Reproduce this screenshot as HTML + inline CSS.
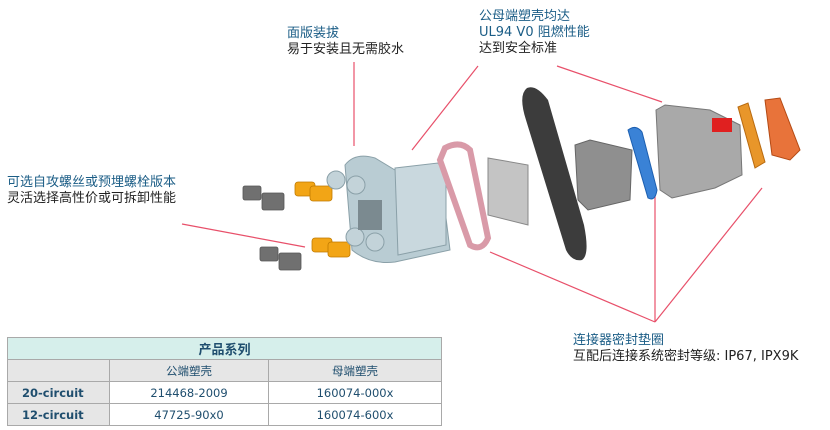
<!DOCTYPE html>
<html><head><meta charset="utf-8"><style>
body{margin:0;width:830px;height:430px;background:#fff;position:relative;overflow:hidden;font-family:"DejaVu Sans","Noto Sans CJK SC",sans-serif;}
.t{position:absolute;font-size:13px;line-height:16px;color:#222;white-space:nowrap}
.b{color:#1b5d86}
table{position:absolute;left:7px;top:337px;border-collapse:collapse;font-size:11.5px;color:#1f4e6e;font-family:"DejaVu Sans","Noto Sans CJK SC",sans-serif}
td{border:1.5px solid #a9a9a9;text-align:center;height:21px;padding:0}
</style></head><body>
<svg width="830" height="430" style="position:absolute;left:0;top:0">
<g stroke="#e8506a" stroke-width="1.2" fill="none">
<line x1="354" y1="62" x2="354" y2="146"/>
<line x1="478" y1="66" x2="412" y2="150"/>
<line x1="557" y1="66" x2="662" y2="102"/>
<line x1="182" y1="224" x2="305" y2="247"/>
<line x1="490" y1="252" x2="655" y2="322"/>
<line x1="655" y1="190" x2="655" y2="322"/>
<line x1="762" y1="188" x2="655" y2="322"/>
</g>
<g fill="#707070" stroke="#555" stroke-width="0.8">
<rect x="243" y="186" width="18" height="14" rx="2"/><rect x="262" y="193" width="22" height="17" rx="2"/>
<rect x="260" y="247" width="18" height="14" rx="2"/><rect x="279" y="253" width="22" height="17" rx="2"/>
</g>
<g fill="#f2a516" stroke="#c07a00" stroke-width="0.8">
<rect x="295" y="182" width="20" height="14" rx="3"/><rect x="310" y="186" width="22" height="15" rx="3"/>
<rect x="312" y="238" width="20" height="14" rx="3"/><rect x="328" y="242" width="22" height="15" rx="3"/>
</g>
<path d="M345 165 Q355 152 375 158 L395 170 L440 170 L450 250 L395 262 Q370 265 352 250 Z" fill="#b9ccd3" stroke="#8aa0a8"/>
<path d="M395 168 L438 163 L446 175 L446 245 L398 255 Z" fill="#c9d8de" stroke="#8aa0a8"/>
<circle cx="336" cy="180" r="9" fill="#c3d3d9" stroke="#8aa0a8"/><circle cx="356" cy="185" r="9" fill="#c3d3d9" stroke="#8aa0a8"/>
<circle cx="355" cy="237" r="9" fill="#c3d3d9" stroke="#8aa0a8"/><circle cx="375" cy="242" r="9" fill="#c3d3d9" stroke="#8aa0a8"/>
<rect x="358" y="200" width="24" height="30" fill="#7b8a90"/>
<path d="M445 148 Q460 140 470 150 L488 238 Q482 252 470 245 L440 160 Z" fill="none" stroke="#d99aa8" stroke-width="6"/>
<path d="M488 158 L528 165 L528 225 L488 215 Z" fill="#c4c4c4" stroke="#888"/>
<path d="M527 88 Q536 84 548 100 L584 225 Q590 255 582 260 Q572 262 566 250 L526 120 Q518 95 527 88 Z" fill="#3c3c3c"/>
<path d="M575 145 L590 140 L632 150 L630 200 L588 210 L578 200 Z" fill="#8f8f8f" stroke="#666"/>
<path d="M628 130 Q636 124 642 132 L657 190 Q655 202 648 198 Z" fill="#3a82d6" stroke="#1c5fb0"/>
<path d="M656 110 L665 105 L710 110 L740 125 L742 175 L715 188 L672 198 L660 190 Z" fill="#a9a9a9" stroke="#777"/>
<rect x="712" y="118" width="20" height="14" fill="#e02020"/>
<path d="M738 107 L748 103 L765 162 L755 168 Z" fill="#e8962a" stroke="#b86a10"/>
<path d="M765 100 L780 98 L800 150 L790 160 L772 155 Z" fill="#e8733a" stroke="#b44a14"/>
</svg>
<div class="t" style="left:287px;top:26px"><span class="b">面版装拔</span><br>易于安装且无需胶水</div>
<div class="t" style="left:479px;top:9px"><span class="b">公母端塑壳均达<br>UL94 V0 阻燃性能</span><br>达到安全标准</div>
<div class="t" style="left:7px;top:175px"><span class="b">可选自攻螺丝或预埋螺栓版本</span><br>灵活选择高性价或可拆卸性能</div>
<div class="t" style="left:573px;top:333px"><span class="b">连接器密封垫圈</span><br>互配后连接系统密封等级: IP67, IPX9K</div>
<table>
<tr><td colspan="3" style="background:#d6efeb;font-weight:bold;font-size:13px;width:432px">产品系列</td></tr>
<tr style="background:#e6e6e6"><td style="width:101px"></td><td style="width:158px">公端塑壳</td><td style="width:172px">母端塑壳</td></tr>
<tr><td style="background:#e6e6e6;font-weight:bold;text-align:left;padding-left:14px">20-circuit</td><td>214468-2009</td><td>160074-000x</td></tr>
<tr><td style="background:#e6e6e6;font-weight:bold;text-align:left;padding-left:14px">12-circuit</td><td>47725-90x0</td><td>160074-600x</td></tr>
</table>
</body></html>
